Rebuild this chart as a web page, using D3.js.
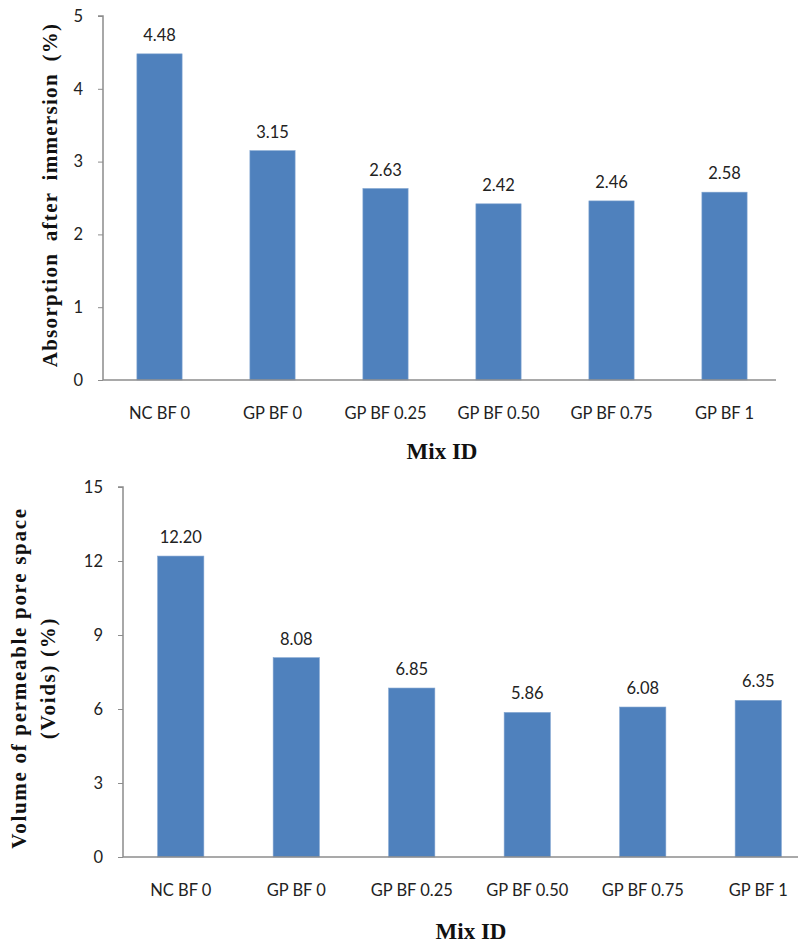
<!DOCTYPE html>
<html>
<head>
<meta charset="utf-8">
<script src="https://cdn.jsdelivr.net/npm/d3@7"></script>
<style>
  html, body { margin: 0; padding: 0; background: #fff; }
  svg { display: block; }
</style>
</head>
<body>
<script>
// ---- data ----
const categories = ["NC BF 0", "GP BF 0", "GP BF 0.25", "GP BF 0.50", "GP BF 0.75", "GP BF 1"];
const absorptionValues = [4.48, 3.15, 2.63, 2.42, 2.46, 2.58];
const voidsValues = [12.20, 8.08, 6.85, 5.86, 6.08, 6.35];
const absorptionTicks = [0, 1, 2, 3, 4, 5];
const voidsTicks = [0, 3, 6, 9, 12, 15];
const xTitle = "Mix ID";
const absorptionTitle = ["Absorption after immersion (%)"];
const voidsTitle = ["Volume of permeable pore space", "(Voids) (%)"];

const W = 798, H = 946;
const svg = d3.select("body").append("svg").attr("width", W).attr("height", H);

const barColor = "#4F81BD";
const axisColor = "#8c8c8c";
const labelFont = "Lato, 'Open Sans', sans-serif";
const titleFont = "'Liberation Serif', 'Times New Roman', serif";

function drawChart(opts) {
  const g = svg.append("g");
  const x = d3.scaleBand().domain(categories).range([opts.x0, opts.x1])
    .paddingInner(0.6).paddingOuter(0.3);
  const y = d3.scaleLinear().domain([0, d3.max(opts.ticks)]).range([opts.y0, opts.yTop]);

  // bars
  g.selectAll("rect.bar").data(opts.values).enter().append("rect")
    .attr("class", "bar")
    .attr("x", (d, i) => x(categories[i]))
    .attr("width", x.bandwidth())
    .attr("y", d => y(d))
    .attr("height", d => y(0) - y(d))
    .attr("fill", barColor)
    .attr("stroke", "#7fa3cf").attr("stroke-width", 0.6);

  // value labels
  g.selectAll("text.val").data(opts.values).enter().append("text")
    .attr("class", "val")
    .attr("x", (d, i) => x(categories[i]) + x.bandwidth() / 2)
    .attr("y", d => y(d) - 13)
    .attr("text-anchor", "middle")
    .attr("font-family", labelFont).attr("font-size", 16.5)
    .attr("fill", "#222")
    .text(d => d3.format(".2f")(d));

  // y axis
  const yAxis = d3.axisLeft(y).tickValues(opts.ticks).tickSize(5).tickPadding(15)
    .tickFormat(d3.format("d"));
  const ya = g.append("g").attr("transform", `translate(${opts.x0},0)`).call(yAxis);
  ya.select(".domain").attr("stroke", axisColor).attr("stroke-width", 1.5)
    .attr("d", `M-5,${opts.yTop}H0V${opts.y0}`);
  ya.selectAll(".tick line").attr("stroke", axisColor).attr("stroke-width", 1);
  ya.selectAll(".tick text").attr("font-family", labelFont).attr("font-size", 16.5).attr("fill", "#222");

  // x axis
  const xAxis = d3.axisBottom(x).tickSize(0).tickPadding(27);
  const xa = g.append("g").attr("transform", `translate(0,${opts.y0})`).call(xAxis);
  xa.select(".domain").attr("stroke", axisColor).attr("stroke-width", 1.5)
    .attr("d", `M${opts.x0},0H${opts.xAxisEnd}`);
  xa.selectAll(".tick text").attr("font-family", labelFont).attr("font-size", 16.5).attr("fill", "#222");

  // x title
  g.append("text")
    .attr("x", opts.xTitleX).attr("y", opts.xTitleY)
    .attr("text-anchor", "middle")
    .attr("font-family", titleFont).attr("font-weight", "bold").attr("font-size", 23)
    .attr("fill", "#111")
    .text(xTitle);

  // y title
  const yt = g.append("text")
    .attr("transform", `translate(${opts.yTitleX},${opts.yTitleY}) rotate(-90)`)
    .attr("text-anchor", "middle")
    .attr("font-family", titleFont).attr("font-weight", "bold").attr("font-size", opts.yTitleSize)
    .attr("letter-spacing", opts.yTitleSpacing)
    .attr("word-spacing", opts.yTitleWordSpacing)
    .attr("fill", "#111");
  opts.yTitle.forEach((line, i) => {
    yt.append("tspan").attr("x", 0).attr("dy", i === 0 ? 0 : opts.yTitleLine).text(line);
  });
}

drawChart({
  values: absorptionValues, ticks: absorptionTicks, yTitle: absorptionTitle,
  x0: 103, x1: 781, xAxisEnd: 776, y0: 380, yTop: 16,
  xTitleX: 442, xTitleY: 459,
  yTitleX: 57, yTitleY: 195, yTitleSize: 21, yTitleSpacing: 1.3, yTitleWordSpacing: 5, yTitleLine: 0
});

drawChart({
  values: voidsValues, ticks: voidsTicks, yTitle: voidsTitle,
  x0: 123, x1: 816, xAxisEnd: 798, y0: 857, yTop: 487,
  xTitleX: 471, xTitleY: 939,
  yTitleX: 26, yTitleY: 678, yTitleSize: 21, yTitleSpacing: 1.7, yTitleWordSpacing: 0, yTitleLine: 29
});
</script>
</body>
</html>
